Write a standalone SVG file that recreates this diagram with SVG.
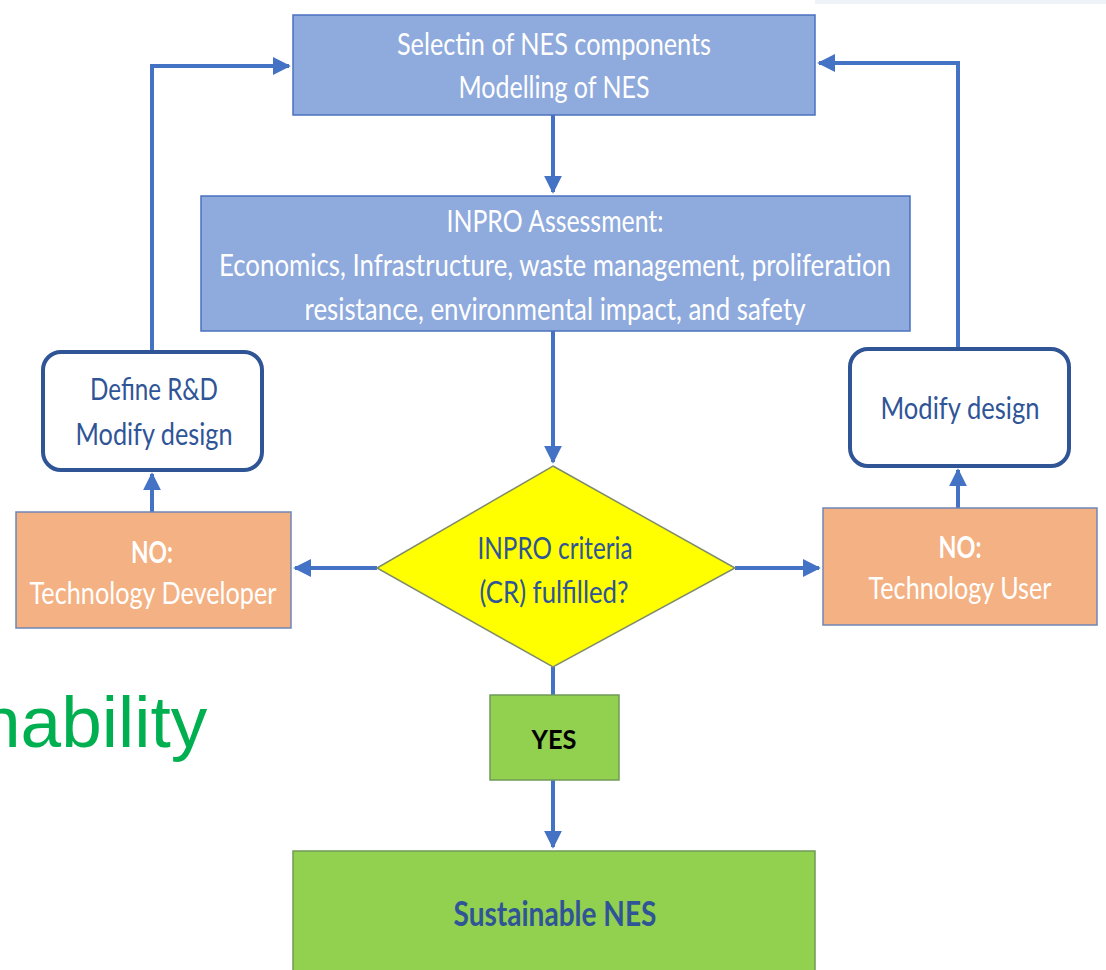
<svg xmlns="http://www.w3.org/2000/svg" width="1106" height="970" viewBox="0 0 1106 970">
<style>
.t{font-family:Lato,"Open Sans","Liberation Sans",sans-serif;text-anchor:middle}
.w{fill:#ffffff}
.d{fill:#2f5597}
.blue{fill:#8faadc;stroke:#4a72c0;stroke-width:1.5}
.org{fill:#f4b183;stroke:#6f86b5;stroke-width:1.5}
.grn{fill:#92d050;stroke:#6f9a58;stroke-width:1.5}
.rnd{fill:#ffffff;stroke:#2f5597;stroke-width:4}
.c{fill:none;stroke:#4472c4;stroke-width:4}
</style>
<defs>
<marker id="ah" viewBox="0 0 10 10" refX="9" refY="5" markerWidth="4.5" markerHeight="4.5" orient="auto" markerUnits="strokeWidth">
<path d="M0,0 L10,5 L0,10 z" fill="#4472c4"/>
</marker>
</defs>
<rect width="1106" height="970" fill="#ffffff"/>
<rect x="815" y="0" width="291" height="4" fill="#eef3fa"/>
<text x="-20" y="747" font-family="'Liberation Sans',Arial,sans-serif" font-size="73" fill="#00b050">nability</text>

<g id="connectors">
<path class="c" d="M152,350 V66 H289" marker-end="url(#ah)"/>
<path class="c" d="M958,348 V63 H819" marker-end="url(#ah)"/>
<path class="c" d="M553,115 V192" marker-end="url(#ah)"/>
<path class="c" d="M553,331 V462" marker-end="url(#ah)"/>
<path class="c" d="M377,568 H295" marker-end="url(#ah)"/>
<path class="c" d="M735,568 H819" marker-end="url(#ah)"/>
<path class="c" d="M152,512 V474" marker-end="url(#ah)"/>
<path class="c" d="M958,508 V470" marker-end="url(#ah)"/>
<path class="c" d="M553,667 V695"/>
<path class="c" d="M553,780 V847" marker-end="url(#ah)"/>
</g>

<g id="n-select">
<rect class="blue" x="293" y="15" width="522" height="100"/>
<text class="t w" x="554" y="55" font-size="30" textLength="314" lengthAdjust="spacingAndGlyphs">Selectin of NES components</text>
<text class="t w" x="554" y="98" font-size="30" textLength="191" lengthAdjust="spacingAndGlyphs">Modelling of NES</text>
</g>

<g id="n-assess">
<rect class="blue" x="201" y="196" width="709" height="135"/>
<text class="t w" x="555" y="232" font-size="30" textLength="217" lengthAdjust="spacingAndGlyphs">INPRO Assessment:</text>
<text class="t w" x="555" y="276" font-size="30" textLength="672" lengthAdjust="spacingAndGlyphs">Economics, Infrastructure, waste management, proliferation</text>
<text class="t w" x="555" y="320" font-size="30" textLength="501" lengthAdjust="spacingAndGlyphs">resistance, environmental impact, and safety</text>
</g>

<g id="n-rd">
<rect class="rnd" x="43" y="352" width="219" height="118" rx="18"/>
<text class="t d" x="154" y="400" font-size="30" textLength="128" lengthAdjust="spacingAndGlyphs">Define R&amp;D</text>
<text class="t d" x="154" y="445" font-size="30" textLength="157" lengthAdjust="spacingAndGlyphs">Modify design</text>
</g>

<g id="n-modify">
<rect class="rnd" x="850" y="349" width="219" height="117" rx="18"/>
<text class="t d" x="960" y="419" font-size="30" textLength="159" lengthAdjust="spacingAndGlyphs">Modify design</text>
</g>

<g id="n-dev">
<rect class="org" x="16" y="512" width="275" height="116"/>
<text class="t w" x="152" y="563" font-size="30" font-weight="bold" textLength="42" lengthAdjust="spacingAndGlyphs">NO:</text>
<text class="t w" x="153" y="604" font-size="30" textLength="247" lengthAdjust="spacingAndGlyphs">Technology Developer</text>
</g>

<g id="n-user">
<rect class="org" x="823" y="508" width="274" height="117"/>
<text class="t w" x="960" y="558" font-size="30" font-weight="bold" textLength="43" lengthAdjust="spacingAndGlyphs">NO:</text>
<text class="t w" x="960" y="599" font-size="30" textLength="183" lengthAdjust="spacingAndGlyphs">Technology User</text>
</g>

<g id="n-criteria">
<polygon points="553,466 735,568 553,667 377,568" fill="#ffff00" stroke="#7f8c6a" stroke-width="1.5"/>
<text class="t d" x="555" y="559" font-size="30" textLength="155" lengthAdjust="spacingAndGlyphs">INPRO criteria</text>
<text class="t d" x="554" y="603" font-size="30" textLength="149" lengthAdjust="spacingAndGlyphs">(CR) fulfilled?</text>
</g>

<g id="n-yes">
<rect class="grn" x="490" y="695" width="129" height="85"/>
<text class="t" x="554" y="749" font-size="26" font-weight="bold" fill="#000000" textLength="45" lengthAdjust="spacingAndGlyphs">YES</text>
</g>

<g id="n-sustainable">
<rect class="grn" x="293" y="851" width="522" height="125"/>
<text class="t d" x="555" y="926" font-size="34" font-weight="bold" textLength="203" lengthAdjust="spacingAndGlyphs">Sustainable NES</text>
</g>
</svg>
